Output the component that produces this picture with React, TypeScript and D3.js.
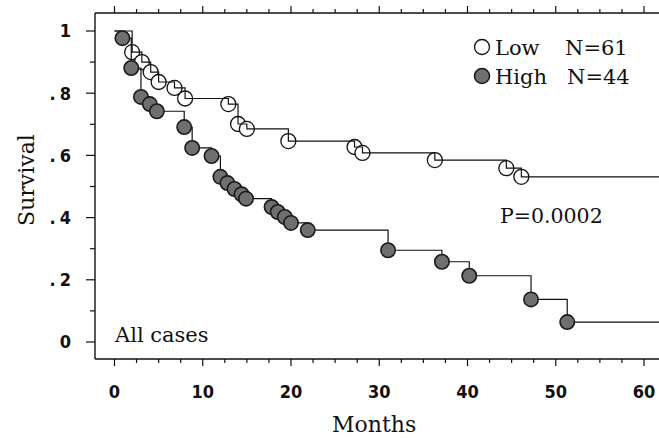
import React from "react";
import * as d3 from "d3";

// Kaplan–Meier event times (months) and survival after each event
const lowMonths = [2.0, 3.1, 4.1, 5.0, 6.8, 8.0, 12.9, 14.0, 15.0, 19.7, 27.2, 28.1, 36.3, 44.4, 46.1];
const lowSurv = [0.932, 0.9, 0.868, 0.836, 0.817, 0.783, 0.765, 0.701, 0.685, 0.646, 0.627, 0.608, 0.585, 0.559, 0.531];

const highMonths = [0.9, 1.9, 3.0, 4.0, 4.8, 7.9, 8.8, 11.0, 12.0, 12.8, 13.6, 14.4, 14.9, 17.8, 18.5, 19.3, 20.0, 21.9, 31.0, 37.1, 40.2, 47.2, 51.3];
const highSurv = [0.977, 0.881, 0.788, 0.765, 0.742, 0.691, 0.624, 0.598, 0.531, 0.511, 0.492, 0.475, 0.461, 0.434, 0.418, 0.402, 0.383, 0.36, 0.295, 0.258, 0.213, 0.137, 0.064];

const xTickLabels = [0, 10, 20, 30, 40, 50, 60];
const yTickLabels = ["0", ".2", ".4", ".6", ".8", "1"];
const legendLabels = ["Low", "High"];
const legendCounts = ["N=61", "N=44"];
const pValueText = "P=0.0002";
const subsetText = "All cases";

const W = 659;
const H = 438;

const x = d3.scaleLinear().domain([0, 60]).range([114.5, 644]);
const y = d3.scaleLinear().domain([0, 1]).range([342, 31]);

const frameLeft = 95;
const frameTop = 13;
const frameBottom = 359;
const frameRight = 720;
const tailMonth = x.invert(frameRight);

const serif = "'DejaVu Serif', 'Liberation Serif', serif";
const narrow = "'Liberation Sans Narrow', 'DejaVu Sans Condensed', 'DejaVu Sans', sans-serif";

type Pt = [number, number];

function stepPoints(months: number[], surv: number[]): Pt[] {
  const pts: Pt[] = [[0, 1]];
  months.forEach((m, i) => pts.push([m, surv[i]]));
  pts.push([tailMonth, surv[surv.length - 1]]);
  return pts;
}

const stepLine = d3
  .line<Pt>()
  .x((d) => x(d[0]))
  .y((d) => y(d[1]))
  .curve(d3.curveStepAfter);

export default function App() {
  const lowPath = stepLine(stepPoints(lowMonths, lowSurv)) || "";
  const highPath = stepLine(stepPoints(highMonths, highSurv)) || "";

  const xMinor = d3.range(0, 62.5, 2.5);
  const yMinor = d3.range(0, 1.05, 0.1);

  return (
    <svg
      width={W}
      height={H}
      style={{ position: "absolute", left: 0, top: 0, background: "#fff" }}
      xmlns="http://www.w3.org/2000/svg"
    >
      <rect x={0} y={0} width={W} height={H} fill="#fff" />

      {/* plot frame */}
      <g stroke="#111" strokeWidth={1.4} fill="none">
        <line x1={frameLeft} y1={frameTop} x2={frameRight} y2={frameTop} />
        <line x1={frameLeft} y1={frameBottom} x2={frameRight} y2={frameBottom} />
        <line x1={frameLeft} y1={frameTop} x2={frameLeft} y2={frameBottom} />
      </g>

      {/* x ticks: bottom (down) and top (up) */}
      <g stroke="#111" strokeWidth={1.2}>
        {xMinor.map((m) => {
          const major = Math.abs(m % 10) < 1e-6;
          const len = major ? 7 : 4;
          return (
            <g key={`xt${m}`}>
              <line x1={x(m)} x2={x(m)} y1={frameBottom} y2={frameBottom + len} />
              <line x1={x(m)} x2={x(m)} y1={frameTop} y2={frameTop - len} />
            </g>
          );
        })}
      </g>

      {/* y ticks */}
      <g stroke="#111" strokeWidth={1.2}>
        {yMinor.map((v, i) => {
          const major = i % 2 === 0;
          return (
            <line
              key={`yt${i}`}
              x1={frameLeft}
              x2={frameLeft - (major ? 9 : 5)}
              y1={y(v)}
              y2={y(v)}
            />
          );
        })}
      </g>

      {/* x tick labels */}
      <g fontFamily={narrow} fontWeight="bold" fontSize={18} fill="#111" textAnchor="middle">
        {xTickLabels.map((m) => (
          <text key={`xl${m}`} x={x(m)} y={398}>
            {m}
          </text>
        ))}
      </g>

      {/* y tick labels */}
      <g fontFamily={narrow} fontWeight="bold" fontSize={18} fill="#111" textAnchor="end">
        {yTickLabels.map((lab, i) => {
          const v = i * 0.2;
          if (lab.startsWith(".")) {
            return (
              <text key={`yl${i}`} x={71} y={y(v)} dy="0.36em">
                <tspan>.</tspan>
                <tspan dx={4}>{lab.slice(1)}</tspan>
              </text>
            );
          }
          return (
            <text key={`yl${i}`} x={71} y={y(v)} dy="0.36em">
              {lab}
            </text>
          );
        })}
      </g>

      {/* axis titles */}
      <text x={332} y={432} fontFamily={serif} fontSize={22} fill="#111">
        Months
      </text>
      <text
        transform="translate(34,180) rotate(-90)"
        textAnchor="middle"
        fontFamily={serif}
        fontSize={22}
        fill="#111"
      >
        Survival
      </text>

      {/* Low group: open markers beneath the step line */}
      <g>
        {lowMonths.map((m, i) => (
          <circle
            key={`lc${i}`}
            cx={x(m)}
            cy={y(lowSurv[i])}
            r={7.5}
            fill="#fff"
            stroke="#111"
            strokeWidth={1.3}
          />
        ))}
      </g>
      <path d={lowPath} fill="none" stroke="#111" strokeWidth={1.2} />

      {/* High group: filled markers over the step line */}
      <path d={highPath} fill="none" stroke="#111" strokeWidth={1.2} />
      <g>
        {highMonths.map((m, i) => (
          <circle
            key={`hc${i}`}
            cx={x(m)}
            cy={y(highSurv[i])}
            r={7.2}
            fill="#6f6f6f"
            stroke="#1a1a1a"
            strokeWidth={1.6}
          />
        ))}
      </g>

      {/* legend */}
      <g fontFamily={serif} fontSize={21} fill="#111">
        <circle cx={482} cy={47} r={7.5} fill="#fff" stroke="#111" strokeWidth={1.3} />
        <text x={495} y={55}>{legendLabels[0]}</text>
        <text x={565} y={55}>{legendCounts[0]}</text>
        <circle cx={482} cy={76} r={7.5} fill="#6f6f6f" stroke="#1a1a1a" strokeWidth={1.6} />
        <text x={495} y={84}>{legendLabels[1]}</text>
        <text x={567} y={84}>{legendCounts[1]}</text>
      </g>

      {/* annotations */}
      <text x={500} y={223} fontFamily={serif} fontSize={20.5} fill="#111">
        {pValueText}
      </text>
      <text x={115} y={342} fontFamily={serif} fontSize={21} fill="#111">
        {subsetText}
      </text>
    </svg>
  );
}
